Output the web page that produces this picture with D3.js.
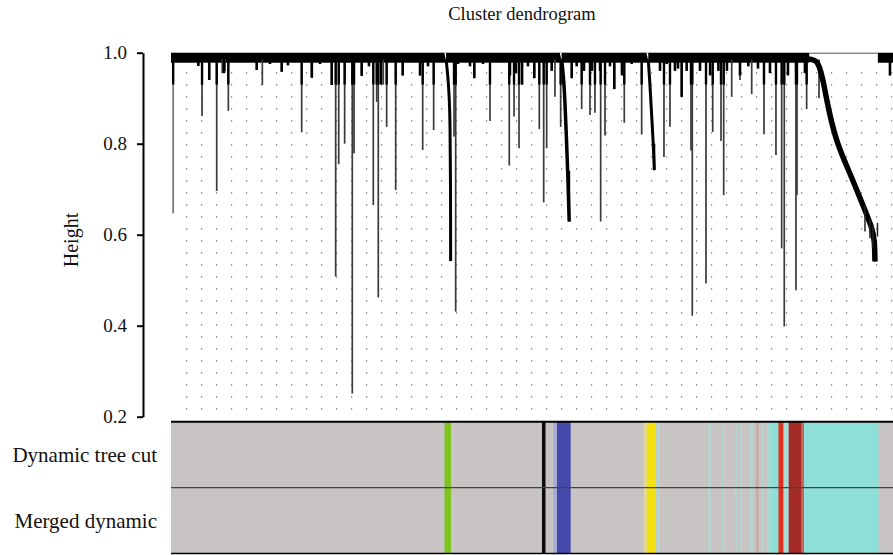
<!DOCTYPE html>
<html><head><meta charset="utf-8">
<script src="https://cdn.jsdelivr.net/npm/d3@7"></script>
<style>
html,body{margin:0;padding:0;background:#fff;}
svg{display:block;}
text{font-family:"Liberation Serif","DejaVu Serif",serif;fill:#111;}
</style></head><body>
<svg id="chart" width="893" height="555"></svg>
<script>
// ---------------- DATA ----------------
const title = "Cluster dendrogram";
const yLabel = "Height";
const yTicks = [0.2, 0.4, 0.6, 0.8, 1.0];
const leafCount = 1000;           // leaf order positions (0..1000)
const topMerge = 1.0;              // height of the top merges
const bandBottom = 0.978;          // lower edge of the dense merge band

// long branches: leaf position and lowest height
const branchLeaf = [3, 38, 43, 53, 63.3, 71, 74.8, 79.4, 118.7, 126.5, 137.1, 153.3, 181, 195.7, 222.6, 228.1, 232.3, 240.5,
  251.1, 253.5, 264.1, 280.2, 284.9, 287.1, 294, 298.7, 311.2, 320.9, 344.9, 348.6, 363.8, 392, 394.3, 420.1, 441.8,
  468.5, 475.1, 482, 486.6, 503.2, 510.1, 516.2, 520.3, 531.8, 539.7, 555, 568.8, 580.3, 587.2, 595.1, 601.1, 614,
  627.8, 651.9, 682.8, 691.1, 707.3, 720.2, 722, 741, 750.3, 761.8, 765.5, 776.6, 788.1, 804.3, 821.3, 837.9,
  845.8, 849.4, 865.6, 867, 880.4, 897.5, 995.8];
const branchHeight = [0.647, 0.971, 0.861, 0.94, 0.696, 0.955, 0.96, 0.872, 0.962, 0.929, 0.98, 0.958, 0.825, 0.945, 0.929, 0.508, 0.755, 0.80,
  0.251, 0.779, 0.949, 0.665, 0.892, 0.462, 0.93, 0.837, 0.698, 0.95, 0.95, 0.786, 0.83, 0.816, 0.431, 0.944, 0.85,
  0.752, 0.86, 0.79, 0.93, 0.944, 0.832, 0.671, 0.79, 0.903, 0.837, 0.944, 0.876, 0.863, 0.868, 0.629, 0.818, 0.92,
  0.846, 0.82, 0.771, 0.837, 0.903, 0.785, 0.422, 0.493, 0.826, 0.806, 0.687, 0.903, 0.94, 0.909, 0.821, 0.775,
  0.57, 0.398, 0.478, 0.687, 0.876, 0.90, 0.95];

// short branches hanging under the dense band
const fringeLeaf = [37.8, 53, 73.4, 118.7, 137.1, 153.3, 162, 194.9, 206.4, 222.6, 264.1, 274.2, 290.9, 320.9, 344.9, 355.9,
  397.5, 414.1, 420.1, 432.1, 469.5, 477.8, 486.1, 494.4, 503.2, 527.3, 555, 561.9, 572, 583.1, 594.2, 608, 614,
  624.6, 638.1, 677.3, 686.5, 698, 702.2, 707.3, 714.2, 732.7, 746.7, 758.2, 770, 788.1, 799.6, 813, 829.6, 854.5,
  865.9, 878, 995.8];
const fringeHeight = [0.971, 0.94, 0.955, 0.962, 0.975, 0.958, 0.972, 0.945, 0.975, 0.929, 0.949, 0.97, 0.93, 0.95, 0.95, 0.97,
  0.975, 0.97, 0.944, 0.975, 0.95, 0.955, 0.93, 0.97, 0.944, 0.96, 0.944, 0.97, 0.96, 0.96, 0.96, 0.97, 0.92,
  0.95, 0.975, 0.96, 0.975, 0.96, 0.965, 0.903, 0.96, 0.96, 0.95, 0.96, 0.96, 0.95, 0.97, 0.965, 0.955, 0.95,
  0.96, 0.955, 0.95];

// coherent clusters drawn as curved bundles (leaf position, height)
const greenClusterLeaf = [381, 383.5, 385.5, 386.5, 387.3, 387.3];
const greenClusterHeight = [0.985, 0.95, 0.90, 0.85, 0.70, 0.542];
const blueClusterLeaf = [541, 543.5, 545.5, 547.5, 549.5, 551.5];
const blueClusterHeight = [0.985, 0.95, 0.90, 0.82, 0.74, 0.629];
const yellowClusterLeaf = [661, 663, 665.5, 668, 669.4];
const yellowClusterHeight = [0.985, 0.94, 0.87, 0.80, 0.742];
const turquoiseClusterLeaf = [880, 887, 894.7, 899.6, 904.4, 911.3, 922.4, 940.4, 957, 972, 974.5, 975];
const turquoiseClusterHeight = [0.985, 0.986, 0.982, 0.962, 0.93, 0.87, 0.80, 0.735, 0.67, 0.612, 0.585, 0.541];
// small sub-branches at the tip of the turquoise cluster
const tipLeaf = [961.2, 968.1, 972.3, 978.5];
const tipTop = [0.665, 0.635, 0.62, 0.626];
const tipHeight = [0.607, 0.592, 0.571, 0.596];

// module colour rows
const rowLabels = ["Dynamic tree cut", "Merged dynamic"];
const moduleStart = [378.8, 513.8, 529.5, 534.6, 655.1, 658.9, 672.4, 743.7, 762.4, 781.1, 788, 801.9, 810.2, 817.8,
  826.8, 832, 841.4, 849, 855.5, 873.5, 876.7];
const moduleEnd = [387.8, 518.7, 534.6, 553.6, 658.9, 671.7, 676.6, 747.9, 765.2, 783.9, 790.8, 806.1, 813.7, 820.6,
  832, 841.4, 848.1, 855.5, 873.5, 876.7, 979.9];
const moduleColor = ["green", "black", "blue-faint", "blue", "yellow-faint", "yellow", "turquoise-faint", "turquoise-faint",
  "turquoise-faint", "turquoise-faint", "turquoise-faint", "turquoise-faint", "brown-faint", "turquoise-faint",
  "turquoise-light", "turquoise", "red", "turquoise-light", "brown", "brown-light", "turquoise"];
const dynamicModules = moduleColor;
const mergedModules = moduleColor;

// ---------------- DRAWING ----------------
const palette = {
  "grey": "#c8c4c4", "green": "#7fc31e", "black": "#0a0a0a", "blue": "#4549a9", "blue-faint": "#a9abd6",
  "yellow": "#f4e112", "yellow-faint": "#e2dc9c", "turquoise": "#8ddfd7", "turquoise-light": "#a6dcd6",
  "turquoise-faint": "#b5d4cf", "red": "#df2f1f", "brown": "#a52b27", "brown-light": "#c06560", "brown-faint": "#c6a6a6"
};

const svg = d3.select("#chart");
const plotLeft = 171, plotRight = 893, plotTop = 52.7, plotBottom = 416.7;
const barTop = 421.7, barBottom = 553.5;

const x = d3.scaleLinear().domain([0, leafCount]).range([plotLeft, plotRight]);
const y = d3.scaleLinear().domain([0.2, 1.0]).range([plotBottom, plotTop]);

// dotted background texture
const dots = svg.append("g");
const dx = d3.range(186, plotRight, 15), dy = d3.range(72.3, 412, 12);
dx.forEach(px => dy.forEach(py => dots.append("rect").attr("x", px).attr("y", py).attr("width", 1.2).attr("height", 1.2).attr("fill", "#666")));

const dend = svg.append("g");
// dense merge band
const bandEnd = 884;
dend.append("rect").attr("x", x(0)).attr("y", y(topMerge)).attr("width", x(bandEnd) - x(0)).attr("height", y(bandBottom) - y(topMerge)).attr("fill", "#000");
dend.append("rect").attr("x", x(979)).attr("y", y(topMerge)).attr("width", x(leafCount) - x(979)).attr("height", y(bandBottom) - y(topMerge)).attr("fill", "#000");
dend.append("line").attr("x1", x(bandEnd)).attr("x2", x(979)).attr("y1", y(topMerge) + 0.5).attr("y2", y(topMerge) + 0.5).attr("stroke", "#555").attr("stroke-width", 1);
// notches at cluster roots
[[378.5, 381], [538.5, 541], [658.5, 661]].forEach(([a, b]) => {
  dend.append("path").attr("d", `M${x(a)},${y(topMerge)}L${x(b)},${y(topMerge)}L${x(b)},${y(0.982)}Z`).attr("fill", "#fff");
});

// long branches
const longData = branchLeaf.map((l, i) => ({l, h: branchHeight[i]}));
dend.selectAll("line.branch").data(longData)
  .join("line").attr("class", "branch")
  .attr("x1", d => x(d.l)).attr("x2", d => x(d.l))
  .attr("y1", y(0.985)).attr("y2", d => y(d.h))
  .attr("stroke", (d, i) => i === 0 ? "#777" : "#3a3a3a").attr("stroke-width", 1.7);
// thicker top parts of branches
dend.selectAll("line.branchTop").data(longData.filter(d => d.h < 0.9))
  .join("line").attr("class", "branchTop")
  .attr("x1", d => x(d.l)).attr("x2", d => x(d.l))
  .attr("y1", y(0.985)).attr("y2", d => y(Math.max(d.h, 0.93)))
  .attr("stroke", "#000").attr("stroke-width", 2.4);
// fringe
dend.selectAll("line.fringe").data(fringeLeaf.map((l, i) => ({l, h: fringeHeight[i]})))
  .join("line").attr("class", "fringe")
  .attr("x1", d => x(d.l)).attr("x2", d => x(d.l))
  .attr("y1", y(0.985)).attr("y2", d => y(d.h))
  .attr("stroke", "#000").attr("stroke-width", 2.6);

// curved clusters
const clusters = [
  [greenClusterLeaf, greenClusterHeight, 3],
  [blueClusterLeaf, blueClusterHeight, 3.5],
  [yellowClusterLeaf, yellowClusterHeight, 3],
  [turquoiseClusterLeaf, turquoiseClusterHeight, 5.5]
];
const cline = d3.line().x(d => x(d[0])).y(d => y(d[1])).curve(d3.curveBasis);
clusters.forEach(([L, Hs, w]) => {
  const pts = L.map((l, i) => [l, Hs[i]]);
  dend.append("path").attr("d", cline(pts)).attr("fill", "none").attr("stroke", "#000").attr("stroke-width", w).attr("stroke-linecap", "butt");
  const last = pts[pts.length - 1];
  dend.append("line").attr("x1", x(last[0])).attr("x2", x(last[0])).attr("y1", y(pts[pts.length - 2][1])).attr("y2", y(last[1])).attr("stroke", "#000").attr("stroke-width", 2);
});
dend.selectAll("line.tip").data(tipLeaf.map((l, i) => ({l, t: tipTop[i], h: tipHeight[i]})))
  .join("line").attr("class", "tip")
  .attr("x1", d => x(d.l)).attr("x2", d => x(d.l)).attr("y1", d => y(d.t)).attr("y2", d => y(d.h))
  .attr("stroke", "#222").attr("stroke-width", 1.5);

// y axis
const yAxis = d3.axisLeft(y).tickValues(yTicks).tickFormat(d3.format(".1f")).tickSize(6).tickSizeOuter(0).tickPadding(10);
const ag = svg.append("g").attr("transform", "translate(143,0)").call(yAxis);
ag.select(".domain").attr("stroke", "#000").attr("stroke-width", 2);
ag.selectAll(".tick line").attr("stroke", "#000").attr("stroke-width", 2);
ag.selectAll(".tick text").attr("font-family", "Liberation Serif").attr("font-size", 19).attr("fill", "#111");

svg.append("text").attr("transform", "translate(78,240) rotate(-90)").attr("text-anchor", "middle")
  .attr("font-size", 20).text(yLabel);
svg.append("text").attr("x", 522).attr("y", 20).attr("text-anchor", "middle").attr("font-size", 18.5).text(title);

// module colour rows
const band = d3.scaleBand().domain(rowLabels).range([barTop, barBottom]);
const rowsData = [dynamicModules, mergedModules];
rowLabels.forEach((lab, r) => {
  const g = svg.append("g");
  g.append("rect").attr("x", x(0)).attr("y", band(lab)).attr("width", x(leafCount) - x(0)).attr("height", band.bandwidth()).attr("fill", palette.grey);
  g.selectAll("rect.mod").data(rowsData[r].map((c, i) => ({c, s: moduleStart[i], e: moduleEnd[i]})))
    .join("rect").attr("class", "mod")
    .attr("x", d => x(d.s)).attr("width", d => x(d.e) - x(d.s))
    .attr("y", band(lab)).attr("height", band.bandwidth())
    .attr("fill", d => palette[d.c]);
  svg.append("text").attr("x", 157).attr("y", band(lab) + band.bandwidth() / 2 + 7).attr("text-anchor", "end")
    .attr("font-size", 21).text(lab);
});
svg.append("line").attr("x1", x(0)).attr("x2", x(leafCount)).attr("y1", barTop).attr("y2", barTop).attr("stroke", "#000").attr("stroke-width", 2);
svg.append("line").attr("x1", x(0)).attr("x2", x(leafCount)).attr("y1", band(rowLabels[1])).attr("y2", band(rowLabels[1])).attr("stroke", "#444").attr("stroke-width", 1.3);
svg.append("line").attr("x1", x(0)).attr("x2", x(leafCount)).attr("y1", barBottom).attr("y2", barBottom).attr("stroke", "#000").attr("stroke-width", 1.5);
</script></body></html>
